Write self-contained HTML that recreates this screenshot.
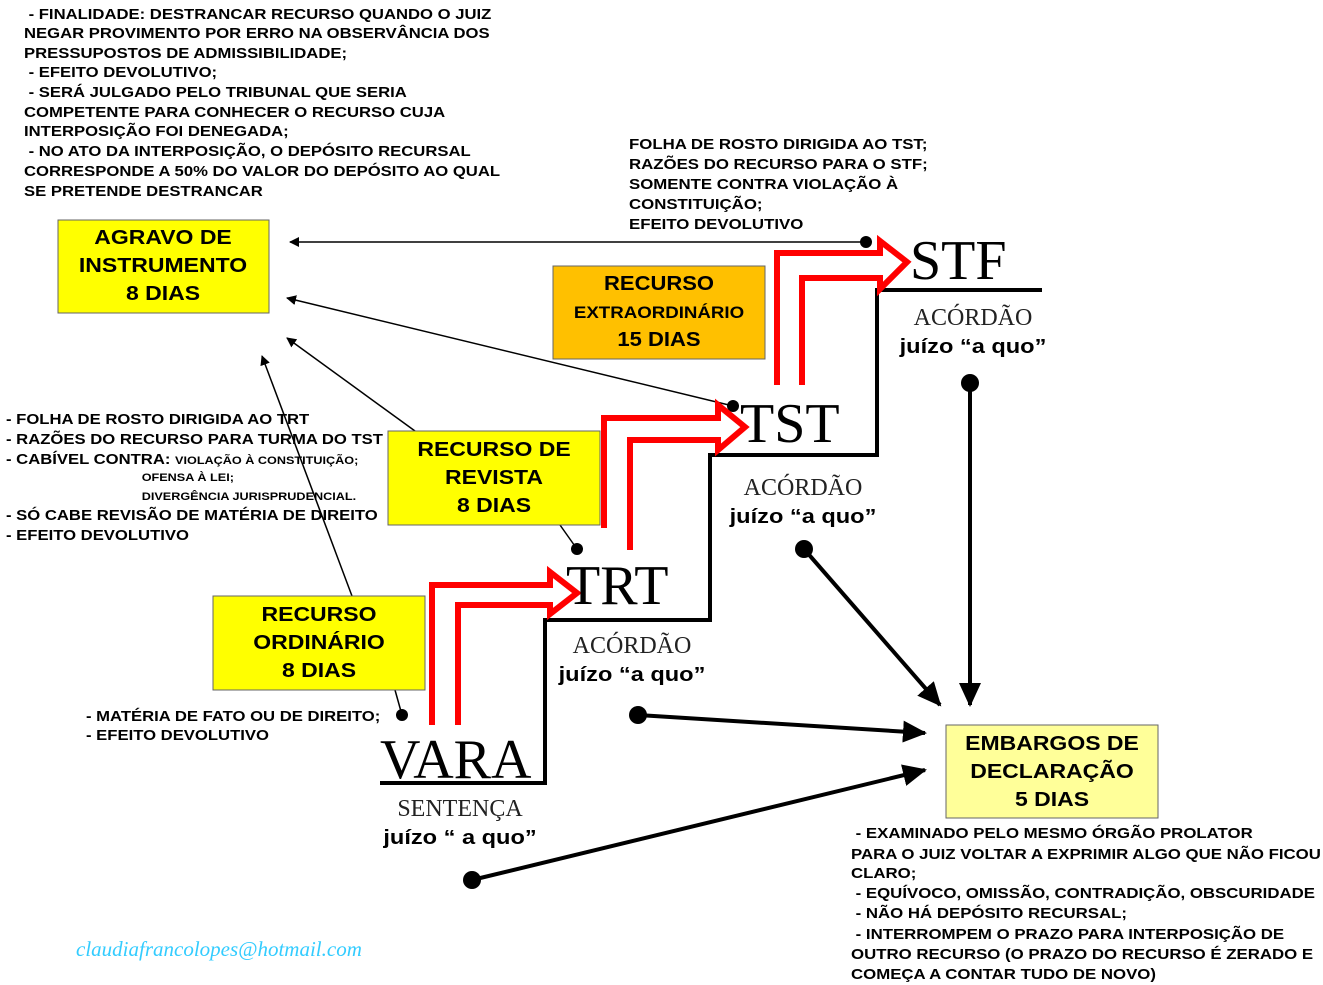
<!DOCTYPE html>
<html><head><meta charset="utf-8"><style>
html,body{margin:0;padding:0;background:#fff;}
svg{display:block;}
.s{font-family:"Liberation Sans",sans-serif;font-weight:bold;font-size:14.5px;fill:#000;}
.sm{font-family:"Liberation Sans",sans-serif;font-weight:bold;font-size:11px;fill:#000;}
.bx{font-family:"Liberation Sans",sans-serif;font-weight:bold;font-size:20px;fill:#000;}
.big{font-family:"Liberation Serif",serif;font-size:56px;fill:#000;}
.ser{font-family:"Liberation Serif",serif;font-size:24px;fill:#222;}
.jz{font-family:"Liberation Sans",sans-serif;font-weight:bold;font-size:20px;fill:#000;}
</style></head><body>
<svg width="1323" height="985" viewBox="0 0 1323 985" xmlns="http://www.w3.org/2000/svg">
<defs>
<marker id="a" markerWidth="10" markerHeight="10" refX="9" refY="5" orient="auto" markerUnits="userSpaceOnUse"><path d="M0,0 L10,5 L0,10 z" fill="#000"/></marker>
<marker id="b" markerWidth="24" markerHeight="22" refX="22" refY="11" orient="auto" markerUnits="userSpaceOnUse"><path d="M0,0 L24,11 L0,22 z" fill="#000"/></marker>
</defs>
<line x1="866" y1="242" x2="290" y2="242" stroke="#000" stroke-width="1.5" marker-end="url(#a)"/>
<circle cx="866" cy="242" r="6"/>
<line x1="733" y1="406" x2="287" y2="298" stroke="#000" stroke-width="1.5" marker-end="url(#a)"/>
<circle cx="733" cy="406" r="6"/>
<line x1="415" y1="431" x2="287" y2="338" stroke="#000" stroke-width="1.5" marker-end="url(#a)"/>
<line x1="577" y1="549" x2="560" y2="525" stroke="#000" stroke-width="1.5"/>
<circle cx="577" cy="549" r="6"/>
<line x1="352" y1="596" x2="262" y2="356" stroke="#000" stroke-width="1.5" marker-end="url(#a)"/>
<line x1="402" y1="715" x2="395" y2="690" stroke="#000" stroke-width="1.5"/>
<circle cx="402" cy="715" r="6"/>
<polyline points="380,783 545,783 545,620 710,620 710,455 877,455 877,290 1042,290" fill="none" stroke="#000" stroke-width="4"/>
<g fill="none" stroke="#f00" stroke-width="6" stroke-linejoin="miter">
<polyline points="432,725 432,585 550,585 550,572 577,593 550,614 550,605 458,605 458,725"/>
<polyline points="604,528 604,418 718,418 718,405 745,427 718,450 718,440 630,440 630,550"/>
<polyline points="777,385 777,253 880,253 880,241 907,262 880,289 880,278 802,278 802,385"/>
</g>
<g stroke="#000" stroke-width="4">
<line x1="970" y1="383" x2="970" y2="705" marker-end="url(#b)"/>
<line x1="804" y1="549" x2="940" y2="705" marker-end="url(#b)"/>
<line x1="638" y1="715" x2="925" y2="733" marker-end="url(#b)"/>
<line x1="472" y1="880" x2="925" y2="770" marker-end="url(#b)"/>
</g>
<circle cx="970" cy="383" r="9"/><circle cx="804" cy="549" r="9"/><circle cx="638" cy="715" r="9"/><circle cx="472" cy="880" r="9"/>
<g stroke="#666" stroke-width="1">
<rect x="58" y="220" width="211" height="93" fill="#ff0"/>
<rect x="553" y="266" width="212" height="93" fill="#ffc000"/>
<rect x="388" y="431" width="212" height="94" fill="#ff0"/>
<rect x="213" y="596" width="212" height="94" fill="#ff0"/>
<rect x="946" y="725" width="212" height="93" fill="#ffff99"/>
</g>
<g class="bx" text-anchor="middle">
<g transform="translate(163,0) scale(1.15,1)"><text x="0" y="244">AGRAVO DE</text><text x="0" y="272">INSTRUMENTO</text><text x="0" y="300">8 DIAS</text></g>
<g transform="translate(659,0) scale(1.1,1)"><text x="0" y="290">RECURSO</text><text x="0" y="318" style="font-size:17px">EXTRAORDINÁRIO</text><text x="0" y="346">15 DIAS</text></g>
<g transform="translate(494,0) scale(1.15,1)"><text x="0" y="456">RECURSO DE</text><text x="0" y="484">REVISTA</text><text x="0" y="512">8 DIAS</text></g>
<g transform="translate(319,0) scale(1.15,1)"><text x="0" y="621">RECURSO</text><text x="0" y="649">ORDINÁRIO</text><text x="0" y="677">8 DIAS</text></g>
<g transform="translate(1052,0) scale(1.15,1)"><text x="0" y="750">EMBARGOS DE</text><text x="0" y="778">DECLARAÇÃO</text><text x="0" y="806">5 DIAS</text></g>
</g>
<text class="big" x="380" y="778">VARA</text>
<text class="big" x="566" y="604">TRT</text>
<text class="big" x="740" y="442">TST</text>
<text class="big" x="910" y="279">STF</text>
<g text-anchor="middle">
<text class="ser" x="460" y="816">SENTENÇA</text>
<text class="ser" x="632" y="653">ACÓRDÃO</text>
<text class="ser" x="803" y="495">ACÓRDÃO</text>
<text class="ser" x="973" y="325">ACÓRDÃO</text>
<g class="jz" transform="translate(460,0) scale(1.18,1)"><text x="0" y="844">juízo “ a quo”</text></g>
<g class="jz" transform="translate(632,0) scale(1.18,1)"><text x="0" y="681">juízo “a quo”</text></g>
<g class="jz" transform="translate(803,0) scale(1.18,1)"><text x="0" y="523">juízo “a quo”</text></g>
<g class="jz" transform="translate(973,0) scale(1.18,1)"><text x="0" y="353">juízo “a quo”</text></g>
</g>
<g class="s" transform="translate(24,0) scale(1.15,1)">
<text x="4" y="19">- FINALIDADE: DESTRANCAR RECURSO QUANDO O JUIZ</text>
<text x="0" y="38">NEGAR PROVIMENTO POR ERRO NA OBSERVÂNCIA DOS</text>
<text x="0" y="58">PRESSUPOSTOS DE ADMISSIBILIDADE;</text>
<text x="4" y="77">- EFEITO DEVOLUTIVO;</text>
<text x="4" y="97">- SERÁ JULGADO PELO TRIBUNAL QUE SERIA</text>
<text x="0" y="117">COMPETENTE PARA CONHECER O RECURSO CUJA</text>
<text x="0" y="136">INTERPOSIÇÃO FOI DENEGADA;</text>
<text x="4" y="156">- NO ATO DA INTERPOSIÇÃO, O DEPÓSITO RECURSAL</text>
<text x="0" y="176">CORRESPONDE A 50% DO VALOR DO DEPÓSITO AO QUAL</text>
<text x="0" y="196">SE PRETENDE DESTRANCAR</text>
</g>
<g class="s" transform="translate(629,0) scale(1.16,1)">
<text x="0" y="149">FOLHA DE ROSTO DIRIGIDA AO TST;</text>
<text x="0" y="169">RAZÕES DO RECURSO PARA O STF;</text>
<text x="0" y="189">SOMENTE CONTRA VIOLAÇÃO À</text>
<text x="0" y="209">CONSTITUIÇÃO;</text>
<text x="0" y="229">EFEITO DEVOLUTIVO</text>
</g>
<g class="s" transform="translate(6,0) scale(1.15,1)">
<text x="0" y="424">- FOLHA DE ROSTO DIRIGIDA AO TRT</text>
<text x="0" y="444">- RAZÕES DO RECURSO PARA TURMA DO TST</text>
<text x="0" y="464">- CABÍVEL CONTRA: <tspan style="font-size:11px">VIOLAÇÃO À CONSTITUIÇÃO;</tspan></text>
<text x="118" y="481" style="font-size:11px">OFENSA À LEI;</text>
<text x="118" y="500" style="font-size:11px">DIVERGÊNCIA JURISPRUDENCIAL.</text>
<text x="0" y="520">- SÓ CABE REVISÃO DE MATÉRIA DE DIREITO</text>
<text x="0" y="540">- EFEITO DEVOLUTIVO</text>
</g>
<g class="s" transform="translate(86,0) scale(1.15,1)">
<text x="0" y="721">- MATÉRIA DE FATO OU DE DIREITO;</text>
<text x="0" y="740">- EFEITO DEVOLUTIVO</text>
</g>
<g class="s" transform="translate(851,0) scale(1.16,1)">
<text x="4" y="838">- EXAMINADO PELO MESMO ÓRGÃO PROLATOR</text>
<text x="0" y="859">PARA O JUIZ VOLTAR A EXPRIMIR ALGO QUE NÃO FICOU</text>
<text x="0" y="878">CLARO;</text>
<text x="4" y="898">- EQUÍVOCO, OMISSÃO, CONTRADIÇÃO, OBSCURIDADE</text>
<text x="4" y="918">- NÃO HÁ DEPÓSITO RECURSAL;</text>
<text x="4" y="939">- INTERROMPEM O PRAZO PARA INTERPOSIÇÃO DE</text>
<text x="0" y="959">OUTRO RECURSO (O PRAZO DO RECURSO É ZERADO E</text>
<text x="0" y="979">COMEÇA A CONTAR TUDO DE NOVO)</text>
</g>
<text x="76" y="956" style="font-family:'Liberation Serif',serif;font-style:italic;font-size:21px;fill:#33ccff;">claudiafrancolopes@hotmail.com</text>
</svg>
</body></html>
